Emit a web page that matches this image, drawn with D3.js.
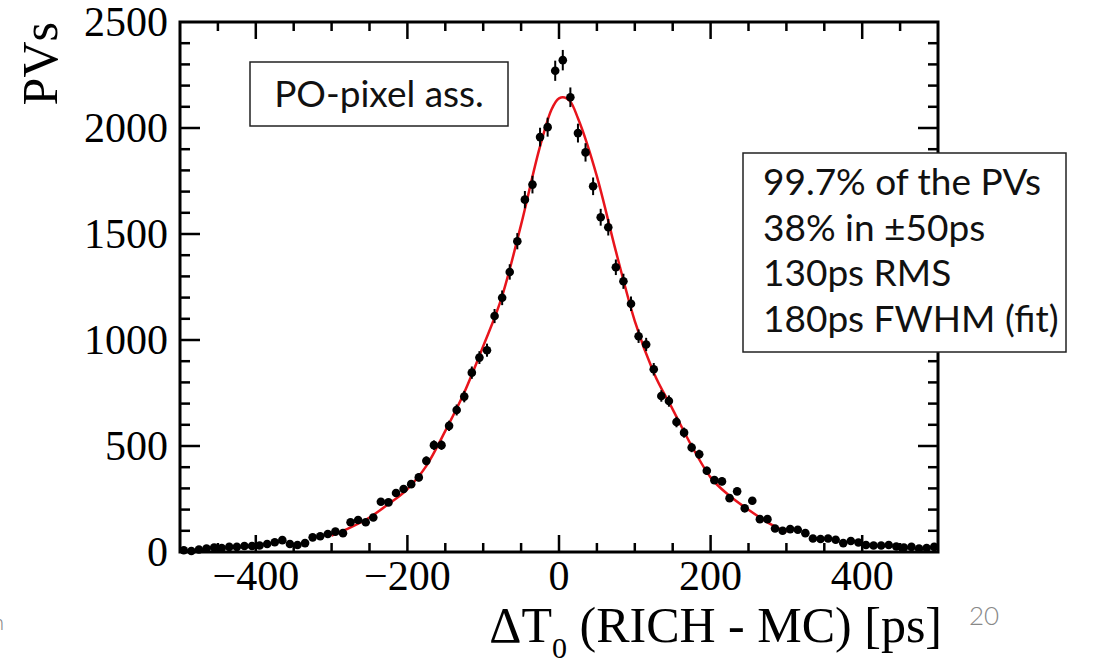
<!DOCTYPE html>
<html>
<head>
<meta charset="utf-8">
<script src="https://cdn.jsdelivr.net/npm/d3@7"></script>
<style>
    body { margin: 0; background: #fff; }
    svg { display: block; }
</style>
</head>
<body>
<div id="chart"></div>
<script>
// Histogram bin centres (ps) and the number of PVs in each bin
const binCenters = [
    -495, -485, -475, -465, -455, -445, -435, -425, -415, -405,
    -395, -385, -375, -365, -355, -345, -335, -325, -315, -305,
    -295, -285, -275, -265, -255, -245, -235, -225, -215, -205,
    -195, -185, -175, -165, -155, -145, -135, -125, -115, -105,
    -95, -85, -75, -65, -55, -45, -35, -25, -15, -5,
    5, 15, 25, 35, 45, 55, 65, 75, 85, 95,
    105, 115, 125, 135, 145, 155, 165, 175, 185, 195,
    205, 215, 225, 235, 245, 255, 265, 275, 285, 295,
    305, 315, 325, 335, 345, 355, 365, 375, 385, 395,
    405, 415, 425, 435, 445, 455, 465, 475, 485, 495
];
const binCounts = [
    8, 5, 12, 16, 21, 19, 24, 24, 28, 28,
    31, 38, 46, 56, 38, 33, 42, 69, 74, 85,
    96, 89, 140, 151, 140, 163, 237, 234, 278, 297,
    320, 352, 430, 504, 504, 595, 670, 733, 846, 917,
    952, 1113, 1199, 1321, 1466, 1662, 1733, 1957, 2004, 2270,
    2320, 2145, 1976, 1885, 1725, 1579, 1532, 1343, 1277, 1171,
    1018, 979, 862, 736, 712, 613, 563, 493, 461, 383,
    339, 333, 254, 286, 206, 242, 155, 155, 111, 100,
    108, 105, 89, 64, 61, 64, 58, 42, 52, 45,
    33, 31, 31, 33, 26, 21, 24, 16, 19, 24
];

// Fit curve (x in ps, y in PVs)
const fitX = [-300, -275, -250, -225, -200, -175, -150, -125, -100, -75, -50, -25, -10, 0, 5, 15, 25, 50, 75, 100, 125, 150, 175, 200, 225, 250, 275, 300];
const fitY = [77, 116, 163, 226, 297, 406, 571, 752, 971, 1207, 1544, 1913, 2086, 2140, 2145, 2125, 2046, 1772, 1419, 1089, 846, 673, 500, 352, 265, 199, 140, 93];

// Axis ticks
const xTickLabels = [-400, -200, 0, 200, 400];
const yTickLabels = [0, 500, 1000, 1500, 2000, 2500];

const labelBox = 'PO-pixel ass.';
const statLines = ['99.7% of the PVs', '38% in \u00B150ps', '130ps RMS', '180ps FWHM (fit)'];

const W = 1101, H = 663;
const svg = d3.select('#chart').append('svg')
    .attr('width', W)
    .attr('height', H);

const x = d3.scaleLinear().domain([-500, 500]).range([180, 938]);
const y = d3.scaleLinear().domain([0, 2500]).range([552, 22]);

const serif = '"Liberation Serif", "Times New Roman", serif';
const sans = 'Lato, "Open Sans", sans-serif';

// Ticks on all four sides, pointing inward
function drawXTicks(yPos, dir) {
    const ticks = d3.range(-450, 500, 50);
    svg.append('g').selectAll('line')
        .data(ticks)
        .enter().append('line')
        .attr('x1', d => x(d))
        .attr('x2', d => x(d))
        .attr('y1', yPos)
        .attr('y2', d => yPos + dir * (d % 200 === 0 ? 17 : 9))
        .attr('stroke', '#000')
        .attr('stroke-width', 2.5);
}
function drawYTicks(xPos, dir) {
    const ticks = d3.range(100, 2500, 100);
    svg.append('g').selectAll('line')
        .data(ticks)
        .enter().append('line')
        .attr('y1', d => y(d))
        .attr('y2', d => y(d))
        .attr('x1', xPos)
        .attr('x2', d => xPos + dir * (d % 500 === 0 ? 20 : 10))
        .attr('stroke', '#000')
        .attr('stroke-width', 2.5);
}
drawXTicks(y(0), -1);
drawXTicks(y(2500), 1);
drawYTicks(x(-500), 1);
drawYTicks(x(500), -1);

// Frame
svg.append('rect')
    .attr('x', x(-500))
    .attr('y', y(2500))
    .attr('width', x(500) - x(-500))
    .attr('height', y(0) - y(2500))
    .attr('fill', 'none')
    .attr('stroke', '#000')
    .attr('stroke-width', 3);

// Tick labels
svg.append('g').selectAll('text')
    .data(xTickLabels)
    .enter().append('text')
    .attr('x', d => x(d))
    .attr('y', 590)
    .attr('text-anchor', 'middle')
    .style('font-family', serif)
    .style('font-size', '42px')
    .text(d => d < 0 ? '\u2212' + Math.abs(d) : d);

svg.append('g').selectAll('text')
    .data(yTickLabels)
    .enter().append('text')
    .attr('x', 168)
    .attr('y', d => y(d))
    .attr('dy', '0.34em')
    .attr('text-anchor', 'end')
    .style('font-family', serif)
    .style('font-size', '42px')
    .text(d => d);

// Axis titles
svg.append('text')
    .attr('transform', 'translate(57,22) rotate(-90)')
    .attr('text-anchor', 'end')
    .style('font-family', serif)
    .style('font-size', '50px')
    .text('PVs');

const xTitle = svg.append('text')
    .attr('x', 942)
    .attr('y', 642)
    .attr('text-anchor', 'end')
    .style('font-family', serif)
    .style('font-size', '50px');
xTitle.append('tspan').text('\u0394T');
xTitle.append('tspan').attr('dy', 16).style('font-size', '30px').text('0');
xTitle.append('tspan').attr('dy', -16).text(' (RICH - MC) [ps]');

// Fit curve
const fitData = fitX.map((v, i) => [v, fitY[i]]);
svg.append('path')
    .datum(fitData)
    .attr('fill', 'none')
    .attr('stroke', '#e8141c')
    .attr('stroke-width', 2.5)
    .attr('d', d3.line().x(d => x(d[0])).y(d => y(d[1])).curve(d3.curveMonotoneX));

// Data points with Poisson error bars
const points = binCenters.map((v, i) => ({ v: v, n: binCounts[i] }));
const pts = svg.append('g');
pts.selectAll('line')
    .data(points)
    .enter().append('line')
    .attr('x1', d => x(d.v))
    .attr('x2', d => x(d.v))
    .attr('y1', d => y(d.n + Math.sqrt(d.n)))
    .attr('y2', d => y(Math.max(0, d.n - Math.sqrt(d.n))))
    .attr('stroke', '#000')
    .attr('stroke-width', 2);
pts.selectAll('circle')
    .data(points)
    .enter().append('circle')
    .attr('cx', d => x(d.v))
    .attr('cy', d => y(d.n))
    .attr('r', 4.3)
    .attr('fill', '#000');

// Label boxes
svg.append('rect')
    .attr('x', 250).attr('y', 62)
    .attr('width', 258).attr('height', 64)
    .attr('fill', '#fff')
    .attr('stroke', '#222')
    .attr('stroke-width', 1.5);
svg.append('text')
    .attr('x', 379).attr('y', 107)
    .attr('text-anchor', 'middle')
    .style('font-family', sans)
    .style('font-size', '37px')
    .style('fill', '#111')
    .text(labelBox);

svg.append('rect')
    .attr('x', 743).attr('y', 153)
    .attr('width', 323).attr('height', 199)
    .attr('fill', '#fff')
    .attr('stroke', '#222')
    .attr('stroke-width', 1.5);
svg.append('g').selectAll('text')
    .data(statLines)
    .enter().append('text')
    .attr('x', 763)
    .attr('y', (d, i) => 195 + i * 45.7)
    .style('font-family', sans)
    .style('font-size', '37px')
    .style('fill', '#111')
    .text(d => d);

// Slide leftovers: page number and a clipped footer letter
svg.append('text')
    .attr('x', 969).attr('y', 625)
    .style('font-family', sans)
    .style('font-weight', 300)
    .style('font-size', '26px')
    .style('fill', '#888')
    .text('20');
svg.append('text')
    .attr('x', 4).attr('y', 630)
    .attr('text-anchor', 'end')
    .style('font-family', sans)
    .style('font-weight', 300)
    .style('font-size', '22px')
    .style('fill', '#888')
    .text('n');
</script>
</body>
</html>
